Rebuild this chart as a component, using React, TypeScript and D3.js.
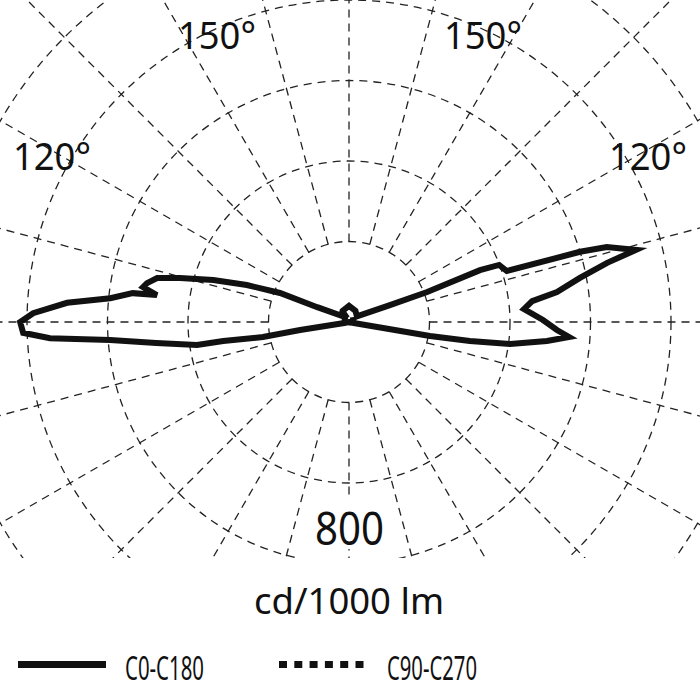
import React, { useEffect, useRef } from 'react';
import * as d3 from 'd3';

// gamma angles (deg, 0 = nadir) and intensities (cd/1000 lm)
const c0Gamma = [0, 78, 80, 80.2, 81.1, 82.2, 84.5, 86.1, 87.8, 90.6, 94.2, 96.5, 98.2, 100.8, 102.9, 104.1, 106.2, 106.9, 107.9, 110.8, 111.6, 111, 112.5, 125, 150, 180];
const c0Values = [0, 12, 86, 204, 304, 404, 494, 548, 517, 482, 436, 458, 522, 584, 658, 735, 667, 600, 412, 399, 350, 208, 110, 24, 32, 40];

const c180Gamma = [0, 78, 80.7, 80.1, 81.4, 81.4, 83.8, 85.7, 86.9, 88.1, 90, 91.6, 93.9, 95.7, 97.6, 98.0, 99.6, 100.9, 102.9, 104.6, 107.2, 109.9, 112.8, 115, 130, 150, 180];
const c180Values = [0, 12, 123, 217, 316, 382, 482, 595, 744, 810, 817, 785, 702, 596, 542, 482, 519, 511, 489, 434, 353, 270, 186, 87, 24, 32, 40];

const c90Gamma = [0, 60, 90, 120, 150, 180];
const c90Values = [0, 2, 6, 12, 18, 22];
const c270Values = [0, 2, 6, 12, 18, 22];

const ringValues = [200, 400, 600, 800, 1000];
const spokeStep = 15;

const angleLabels = [
  { text: '150°', x: 217, y: 49 },
  { text: '150°', x: 483, y: 49 },
  { text: '120°', x: 52, y: 170 },
  { text: '120°', x: 648, y: 170 },
];

const legendItems = [
  { name: 'C0-C180', dash: null, x: 18, textX: 125, width: 79 },
  { name: 'C90-C270', dash: '8,7.3', x: 279, textX: 387, width: 90 },
];

const FONT = "'Noto Sans', 'Open Sans', sans-serif";

const App: React.FC = () => {
  const svgRef = useRef<SVGSVGElement>(null);

  useEffect(() => {
    if (!svgRef.current) return;
    document.body.style.margin = '0';

    const width = 700;
    const height = 700;
    const cx = 349;
    const cy = 322;

    const svg = d3.select(svgRef.current).attr('width', width).attr('height', height).html('');

    const r = d3.scaleLinear().domain([0, 1000]).range([0, 402.5]);
    const toRad = (deg: number) => (deg * Math.PI) / 180;

    svg.append('defs').append('clipPath').attr('id', 'gridClip')
      .append('rect').attr('x', 0).attr('y', 0).attr('width', width).attr('height', 558);

    const grid = svg.append('g')
      .attr('clip-path', 'url(#gridClip)')
      .append('g')
      .attr('transform', `translate(${cx},${cy})`);

    grid.selectAll('circle')
      .data(ringValues)
      .enter()
      .append('circle')
      .attr('r', d => r(d))
      .attr('fill', 'none')
      .attr('stroke', '#222')
      .attr('stroke-width', 1.3)
      .attr('stroke-dasharray', '8,6');

    const spokes = d3.range(0, 360, spokeStep);
    grid.selectAll('line')
      .data(spokes)
      .enter()
      .append('line')
      .attr('x1', d => r(200) * Math.sin(toRad(d)))
      .attr('y1', d => r(200) * Math.cos(toRad(d)))
      .attr('x2', d => 700 * Math.sin(toRad(d)))
      .attr('y2', d => 700 * Math.cos(toRad(d)))
      .attr('stroke', '#222')
      .attr('stroke-width', 1.3)
      .attr('stroke-dasharray', '8,6');

    // scale value label with white box behind it
    const scaleG = svg.append('g');
    scaleG.append('rect')
      .attr('x', 314).attr('y', 497).attr('width', 72).attr('height', 52)
      .attr('fill', '#fff');
    scaleG.append('text')
      .attr('x', 349.5).attr('y', 545)
      .attr('text-anchor', 'middle')
      .attr('font-family', FONT)
      .attr('font-size', 45)
      .attr('textLength', 69)
      .attr('lengthAdjust', 'spacingAndGlyphs')
      .attr('fill', '#111')
      .text('800');

    svg.selectAll('text.angle')
      .data(angleLabels)
      .enter()
      .append('text')
      .attr('class', 'angle')
      .attr('x', d => d.x)
      .attr('y', d => d.y)
      .attr('text-anchor', 'middle')
      .attr('font-family', FONT)
      .attr('font-size', 39)
      .attr('textLength', 78)
      .attr('lengthAdjust', 'spacingAndGlyphs')
      .attr('fill', '#111')
      .text(d => d.text);

    // polar curves: right half uses angle = 180 - gamma, left half 180 + gamma (clockwise from up)
    const curveLine = d3.lineRadial<[number, number]>()
      .angle(d => d[0])
      .radius(d => r(d[1]))
      .curve(d3.curveLinearClosed);

    const buildLoop = (gRight: number[], vRight: number[], gLeft: number[], vLeft: number[]) => {
      const right: [number, number][] = gRight.map((g, i) => [toRad(180 - g), vRight[i]]);
      const left: [number, number][] = gLeft.map((g, i) => [toRad(180 + g), vLeft[i]]);
      return right.concat(left.reverse());
    };

    const plot = svg.append('g').attr('transform', `translate(${cx},${cy})`);

    plot.append('path')
      .attr('d', curveLine(buildLoop(c90Gamma, c90Values, c90Gamma, c270Values)))
      .attr('fill', 'none')
      .attr('stroke', '#111')
      .attr('stroke-width', 6)
      .attr('stroke-dasharray', '8,7.3');

    plot.append('path')
      .attr('d', curveLine(buildLoop(c0Gamma, c0Values, c180Gamma, c180Values)))
      .attr('fill', 'none')
      .attr('stroke', '#111')
      .attr('stroke-width', 6)
      .attr('stroke-linejoin', 'miter')
      .attr('stroke-miterlimit', 4);

    svg.append('text')
      .attr('x', 349).attr('y', 614)
      .attr('text-anchor', 'middle')
      .attr('font-family', FONT)
      .attr('font-size', 37)
      .attr('textLength', 190)
      .attr('lengthAdjust', 'spacingAndGlyphs')
      .attr('fill', '#111')
      .text('cd/1000 lm');

    const legend = svg.append('g');
    legendItems.forEach(item => {
      legend.append('line')
        .attr('x1', item.x).attr('x2', item.x + 88)
        .attr('y1', 664.5).attr('y2', 664.5)
        .attr('stroke', '#111')
        .attr('stroke-width', 7)
        .attr('stroke-dasharray', item.dash ?? null);
      legend.append('text')
        .attr('x', item.textX).attr('y', 680)
        .attr('font-family', FONT)
        .attr('font-size', 32)
        .attr('textLength', item.width)
        .attr('lengthAdjust', 'spacingAndGlyphs')
        .attr('fill', '#111')
        .text(item.name);
    });
  }, []);

  return (
    <div style={{ position: 'absolute', left: 0, top: 0, width: 700, height: 700, background: '#fff' }}>
      <svg ref={svgRef}></svg>
    </div>
  );
};

export default App;
